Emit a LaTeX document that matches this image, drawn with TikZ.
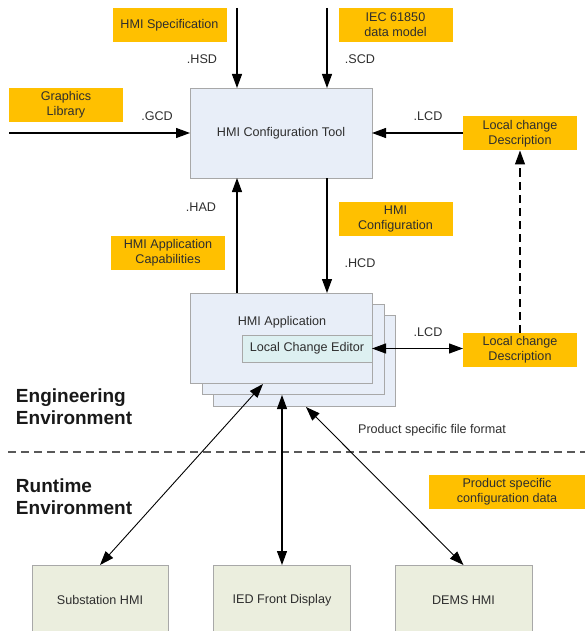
\documentclass[tikz,border=0pt]{standalone}
\usepackage{fontspec}
\setmainfont{Liberation Sans}
\usetikzlibrary{arrows.meta}
\definecolor{orng}{HTML}{FFC000}
\definecolor{toolfill}{HTML}{E8EEF8}
\definecolor{lcefill}{HTML}{DDF0F1}
\definecolor{botfill}{HTML}{EBEEDE}
\definecolor{bordgray}{HTML}{A8A8A8}
\definecolor{txt}{HTML}{2E2E2E}
\begin{document}
\begin{tikzpicture}[x=1pt,y=-1pt,
  every node/.style={inner sep=0pt, outer sep=0pt, text=txt, font=\fontsize{12.6}{15}\selectfont, align=center},
  obox/.style={fill=orng, minimum width=114pt, minimum height=34pt},
  gbox/.style={draw=bordgray, fill=toolfill, line width=0.9pt},
  lbox/.style={draw=bordgray, fill=lcefill, line width=0.9pt},
  bbox/.style={draw=bordgray, fill=botfill, line width=0.9pt, minimum width=137pt, minimum height=70pt},
  head/.style={anchor=base west, text=black!90, font=\fontsize{19}{22}\selectfont\bfseries},
  arr/.style={line width=1.1pt, -{Triangle[length=14pt,width=10pt]}},
  darr/.style={line width=1.1pt, {Triangle[length=14pt,width=10pt]}-{Triangle[length=14pt,width=10pt]}}
]
\useasboundingbox (0,0) rectangle (585,631);
\clip (0,0) rectangle (585,631);

% orange boxes
\node[obox] (spec) at (169.5,25) {HMI Specification};
\node[obox] (iec) at (395.5,25) {IEC 61850\\data model};
\node[obox] (gfx) at (66,105) {Graphics\\Library};
\node[obox] (lcd1) at (520,133.5) {Local change\\Description};
\node[obox] (cap) at (168,253) {HMI Application\\Capabilities};
\node[obox] (hcfg) at (395.5,219) {HMI\\Configuration};
\node[obox] (lcd2) at (520,349.5) {Local change\\Description};
\node[obox, minimum width=156pt] (pcfg) at (507,491.5) {Product specific\\configuration data};

% tool
\node[gbox, minimum width=182pt, minimum height=90pt] (tool) at (281,133) {HMI Configuration Tool};

% application stack
\node[gbox, minimum width=182pt, minimum height=91pt] (app3) at (304,360.5) {};
\node[gbox, minimum width=182pt, minimum height=90pt] (app2) at (293,349) {};
\node[gbox, minimum width=182pt, minimum height=90pt] (app1) at (281,338) {};
\node (appl) at (282,322) {HMI Application};
\node[lbox, minimum width=130pt, minimum height=27pt] (lce) at (307,348.5) {Local Change Editor};

% bottom boxes
\node[bbox, minimum width=136pt] (sub) at (100,600) {Substation HMI};
\node[bbox] (ied) at (282,600) {IED Front Display};
\node[bbox] (dems) at (463.5,600) {DEMS HMI};

% headings
\node[head] (eng1) at (16,402) {Engineering};
\node[head] (eng2) at (16,424) {Environment};
\node[head] (run1) at (16,492) {Runtime};
\node[head] (run2) at (16,514) {Environment};

% separator
\coordinate (sepL) at (8,452);
\coordinate (sepR) at (585,452);
\draw[line width=1.3pt, draw=black!65, dash pattern=on 8pt off 5pt] (sepL) -- (sepR);

% arrows into tool
\coordinate (hsdS) at (237,8);
\coordinate (scdS) at (327,8);
\coordinate (gcdS) at (9,133);
\draw[arr] (hsdS) -- (hsdS |- tool.north);
\draw[arr] (scdS) -- (scdS |- tool.north);
\draw[arr] (gcdS) -- (gcdS -| tool.west);
\draw[arr] (lcd1.west |- tool.east) -- (tool.east);
\draw[arr, dash pattern=on 8pt off 5pt] (lcd2.north) -- (lcd1.south);
\draw[arr] (app1.north -| hsdS) -- (tool.south -| hsdS);
\draw[arr] (tool.south -| scdS) -- (app1.north -| scdS);
\draw[darr] (lce.east) -- (lce.east -| lcd2.west);

% arrows to runtime
\coordinate (subT) at (263,384);
\coordinate (iedT) at (282,395);
\coordinate (demsT) at (306,407);
\draw[darr, line width=0.9pt] (subT) -- (sub.north);
\draw[darr] (iedT) -- (ied.north);
\draw[darr, line width=0.9pt] (demsT) -- (dems.north);

% labels
\node (lhsd) at (202,59) {.HSD};
\node (lscd) at (360,59) {.SCD};
\node (lgcd) at (157,116) {.GCD};
\node (llcd1) at (428,116) {.LCD};
\node (lhad) at (201,207) {.HAD};
\node (lhcd) at (360,263) {.HCD};
\node (llcd2) at (428,332) {.LCD};
\node (lpsf) at (432,430) {Product specific file format};
\end{tikzpicture}
\end{document}
